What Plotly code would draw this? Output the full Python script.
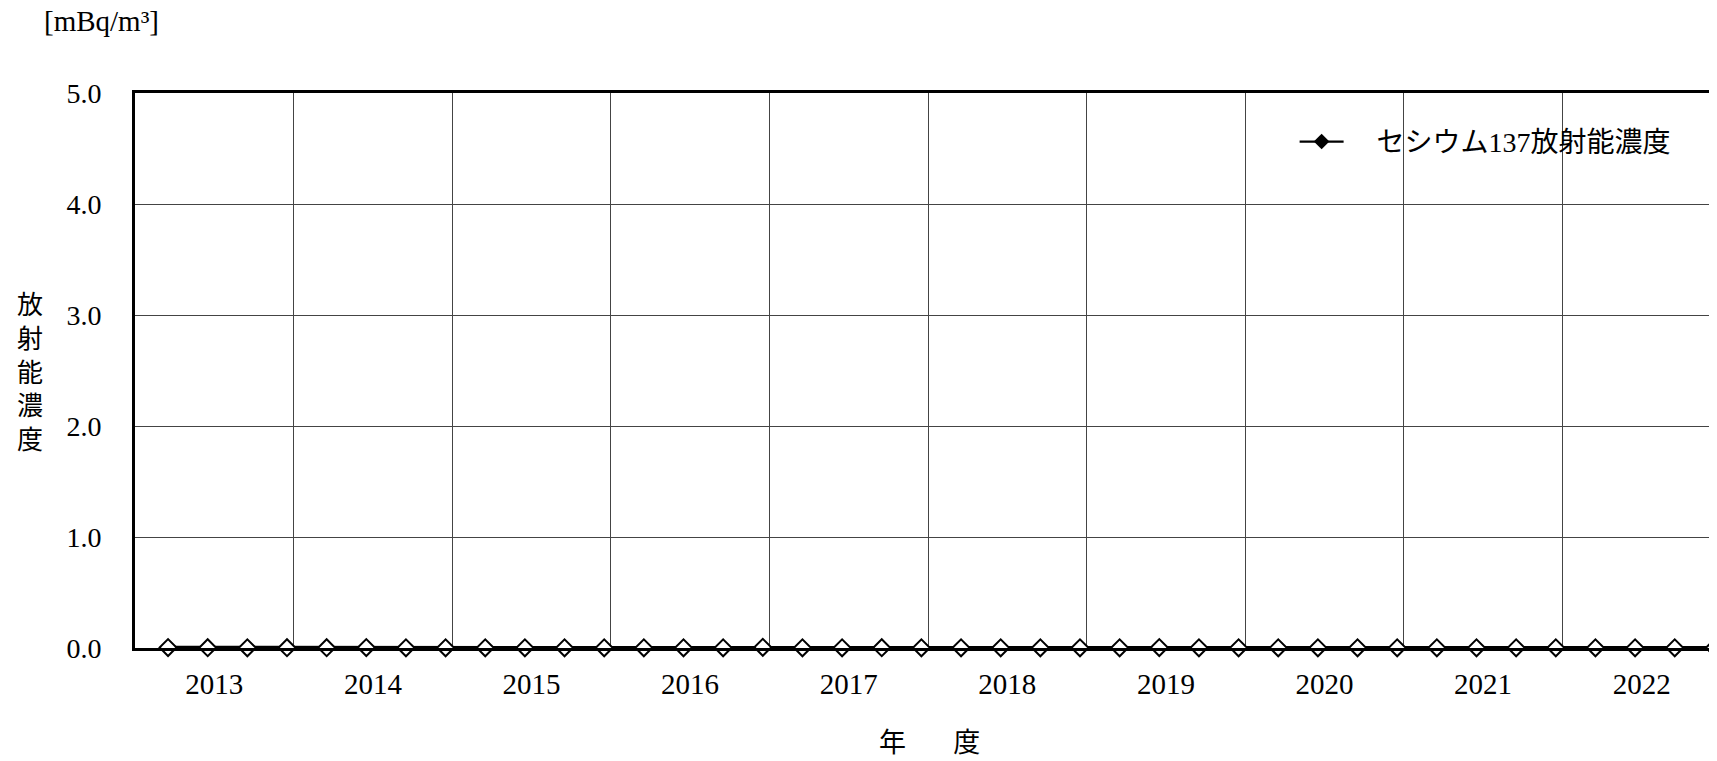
import plotly.graph_objects as go

# ---- data ----
years = [2013, 2014, 2015, 2016, 2017, 2018, 2019, 2020, 2021, 2022]
quarter_month_offsets = [2.5, 5.5, 8.5, 11.5]  # position of each quarterly sample within the fiscal year (months)
cs137 = [
    0.004, 0.003, 0.002, 0.003,
    0.003, 0.004, 0.002, 0.002,
    0.002, 0.002, 0.002, 0.002,
    0.002, 0.002, 0.002, 0.006,
    0.002, 0.002, 0.003, 0.002,
    0.002, 0.002, 0.002, 0.002,
    0.002, 0.004, 0.002, 0.002,
    0.002, 0.002, 0.002, 0.002,
    0.002, 0.002, 0.002, 0.002,
    0.002, 0.002, 0.002, 0.002,
]
y_ticks = [0.0, 1.0, 2.0, 3.0, 4.0, 5.0]
series_name = "セシウム137放射能濃度"
unit_label = "[mBq/m³]"
y_title = "放<br>射<br>能<br>濃<br>度"
x_title = "年　   度"

xs = [y + m / 12.0 for y in years for m in quarter_month_offsets]

FONT = "Liberation Serif, 'Times New Roman', 'Noto Sans CJK JP', serif"

fig = go.Figure()
fig.add_trace(go.Scatter(
    x=xs, y=cs137, mode="lines+markers", showlegend=False,
    line=dict(color="black", width=3.5),
    marker=dict(symbol="diamond", size=13, color="white",
                line=dict(color="black", width=2)),
    cliponaxis=False,
))
# legend entry (filled marker as in the original legend)
fig.add_trace(go.Scatter(
    x=[None], y=[None], mode="lines+markers",
    name="\u00a0\u00a0\u00a0\u00a0" + series_name,
    line=dict(color="black", width=2.2),
    marker=dict(symbol="diamond", size=12, color="black"),
))

x_end = 2013 + 1582 / 158.6

fig.update_layout(
    width=1709, height=753,
    margin=dict(l=127, r=0, t=85, b=113),
    paper_bgcolor="white", plot_bgcolor="white",
    font=dict(family=FONT, size=28, color="black"),
    xaxis=dict(
        range=[2013, x_end],
        tickmode="array",
        tickvals=[y + 0.5 for y in years],
        ticktext=[str(y) for y in years],
        ticks="", showgrid=False, zeroline=False,
        showline=True, linecolor="black", linewidth=3, mirror=True,
        ticklabelstandoff=8,
        tickfont=dict(size=29),
        minor=dict(tickmode="array", tickvals=years[1:], showgrid=True,
                   gridcolor="#444", gridwidth=1, ticks=""),
    ),
    yaxis=dict(
        range=[0, 5.0],
        tickmode="array", tickvals=y_ticks,
        ticktext=[f"{v:.1f}" for v in y_ticks],
        ticks="", showgrid=True, gridcolor="#444", gridwidth=1,
        zeroline=False, showline=True, linecolor="black", linewidth=3,
        ticklabelstandoff=25,
    ),
    legend=dict(
        x=0.733, y=0.957, xanchor="left", yanchor="top",
        bgcolor="rgba(0,0,0,0)", borderwidth=0, itemwidth=44,
        font=dict(family=FONT, size=28),
    ),
    annotations=[
        dict(text=unit_label, xref="paper", yref="paper", x=-0.059, y=1.13,
             xanchor="left", yanchor="middle", showarrow=False,
             font=dict(family=FONT, size=29)),
        dict(text=y_title, xref="paper", yref="paper", x=-0.0665, y=0.4955,
             xanchor="center", yanchor="middle", showarrow=False,
             font=dict(family=FONT, size=26)),
        dict(text=x_title, xref="paper", yref="paper", x=0.5025, y=-0.171,
             xanchor="center", yanchor="middle", showarrow=False,
             font=dict(family=FONT, size=27)),
    ],
)

fig.write_html("out.html")
